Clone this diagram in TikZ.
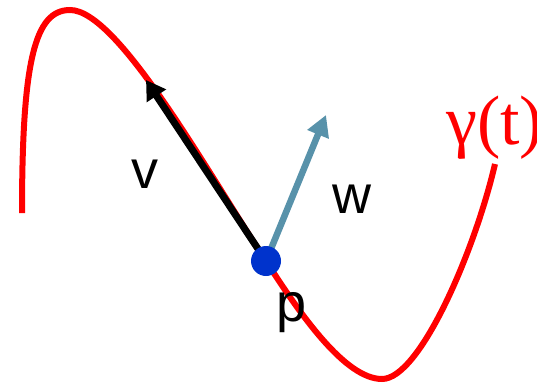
\documentclass[tikz,border=0pt]{standalone}
\usepackage{fontspec}
\setmainfont{Liberation Sans}
\newfontfamily\gammafont{Liberation Serif}
\usetikzlibrary{arrows.meta}
\definecolor{curvered}{RGB}{255,0,0}
\definecolor{wblue}{RGB}{88,146,170}
\definecolor{dotblue}{RGB}{0,51,204}
\tikzset{
  curve/.style={draw=curvered, line width=6pt},
  vecv/.style={draw=black, line width=7pt, -{Triangle[length=19pt,width=22pt]}},
  vecw/.style={draw=wblue, line width=6.5pt, -{Triangle[length=21pt,width=22pt]}},
  lbl/.style={font=\fontsize{54}{60}\selectfont, inner sep=0pt, anchor=base},
  pdot/.style={circle, fill=dotblue, minimum size=30pt, inner sep=0pt}
}
\begin{document}
\begin{tikzpicture}[x=1pt,y=-1pt]
\useasboundingbox (0,0) rectangle (537,385);
\coordinate (pc) at (266,261);
\coordinate (vt) at (146,80);
\coordinate (wt) at (326,115);
\draw[curve] (22,213) .. controls (22,60) and (35,10) .. (70,10)
  .. controls (118,10) and (207,172) .. (pc)
  .. controls (300,314) and (345,379) .. (382,379)
  .. controls (420,379) and (475,250) .. (495,164);
\draw[vecv] (pc) -- (vt);
\draw[vecw] (pc) -- (wt);
\node[pdot] (p) at (pc) {};
\node[lbl] (lv) at (145,188) {v};
\node[lbl] (lw) at (352,213) {w};
\node[lbl] (lp) at (292,321) {p};
\node[font=\gammafont\fontsize{70}{80}\selectfont, text=curvered, inner sep=0pt, anchor=base west] (gam) at (446,144) {γ(t)};
\end{tikzpicture}
\end{document}
